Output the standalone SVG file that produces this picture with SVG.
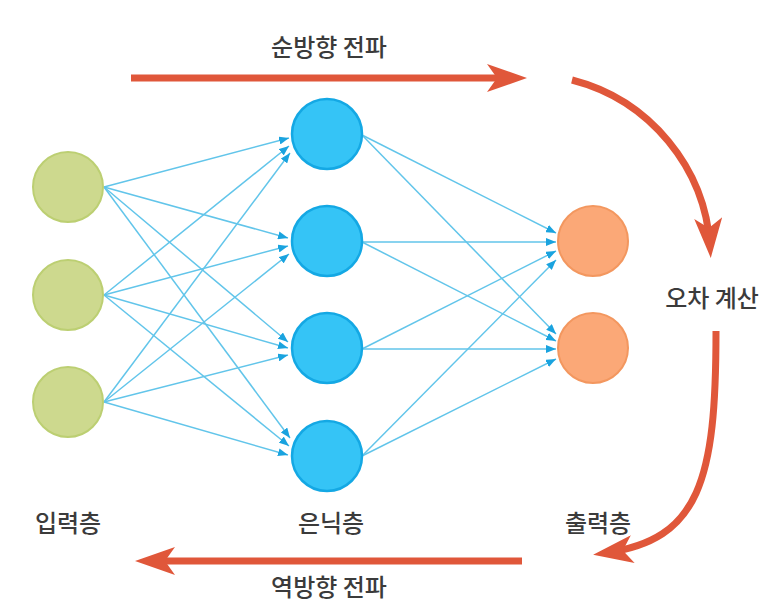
<svg xmlns="http://www.w3.org/2000/svg" width="773" height="604" viewBox="0 0 773 604">
<style>
.lbl{font-family:"Noto Sans CJK KR","Noto Sans",sans-serif;font-size:24px;font-weight:500;fill:#3b3b3b;text-anchor:middle;dominant-baseline:central}
.in{fill:#cdd98e;stroke:#bccf72;stroke-width:2}
.hid{fill:#35c4f6;stroke:#14a8e4;stroke-width:2.5}
.out{fill:#fba877;stroke:#f3975f;stroke-width:2}
.c{stroke:#62c5ea;stroke-width:1.5;fill:none;marker-end:url(#ba)}
.red{stroke:#e0573a;stroke-width:7;fill:none;marker-end:url(#ra)}
</style>
<defs>
<marker id="ba" viewBox="0 0 10 8" refX="10" refY="4" markerWidth="10" markerHeight="8" orient="auto" markerUnits="userSpaceOnUse"><path d="M0,0 L10,4 L0,8 z" fill="#1aa3df"/></marker>
<marker id="ra" viewBox="0 0 40 28" refX="28" refY="14" markerWidth="40" markerHeight="28" orient="auto" markerUnits="userSpaceOnUse"><path d="M0,0 L40,14 L0,28 L10,14 z" fill="#e0573a"/></marker>
</defs>
<rect width="773" height="604" fill="#ffffff"/>
<g id="connectors">
<path class="c" d="M104,187 L289,138"/>
<path class="c" d="M104,295 L289,146"/>
<path class="c" d="M104,402 L290,153"/>
<path class="c" d="M104,187 L288,238"/>
<path class="c" d="M104,295 L288,246"/>
<path class="c" d="M104,402 L289,254"/>
<path class="c" d="M104,187 L288,342"/>
<path class="c" d="M104,295 L288,348"/>
<path class="c" d="M104,402 L288,355"/>
<path class="c" d="M104,187 L290,438"/>
<path class="c" d="M104,295 L289,446"/>
<path class="c" d="M104,402 L288,455"/>
<path class="c" d="M362,135 L556,233"/>
<path class="c" d="M362,242 L556,242"/>
<path class="c" d="M362,349 L556,251"/>
<path class="c" d="M362,456 L556,260"/>
<path class="c" d="M362,135 L556,334"/>
<path class="c" d="M362,242 L556,341"/>
<path class="c" d="M362,349 L556,349"/>
<path class="c" d="M362,456 L556,359"/>
</g>
<g id="flow">
<path class="red" d="M131,78 L515,78"/>
<path class="red" d="M572,80 C650,100 705,168 710,246"/>
<path class="red" d="M716,331 C716,480 700,540 605,553"/>
<path class="red" d="M522,561 L147,561"/>
</g>
<g id="input1"><circle class="in" cx="68" cy="187" r="35"/></g>
<g id="input2"><circle class="in" cx="68" cy="295" r="35"/></g>
<g id="input3"><circle class="in" cx="68" cy="402" r="35"/></g>
<g id="hidden1"><circle class="hid" cx="327" cy="134" r="35"/></g>
<g id="hidden2"><circle class="hid" cx="327" cy="241" r="35"/></g>
<g id="hidden3"><circle class="hid" cx="327" cy="348" r="35"/></g>
<g id="hidden4"><circle class="hid" cx="327" cy="456" r="35"/></g>
<g id="output1"><circle class="out" cx="593" cy="241" r="35"/></g>
<g id="output2"><circle class="out" cx="593" cy="348" r="35"/></g>
<g id="labels">
<text class="lbl" x="329" y="45">순방향 전파</text>
<text class="lbl" x="712" y="296">오차 계산</text>
<text class="lbl" x="68" y="521">입력층</text>
<text class="lbl" x="331" y="521">은닉층</text>
<text class="lbl" x="598" y="521">출력층</text>
<text class="lbl" x="329" y="585">역방향 전파</text>
</g>
</svg>
